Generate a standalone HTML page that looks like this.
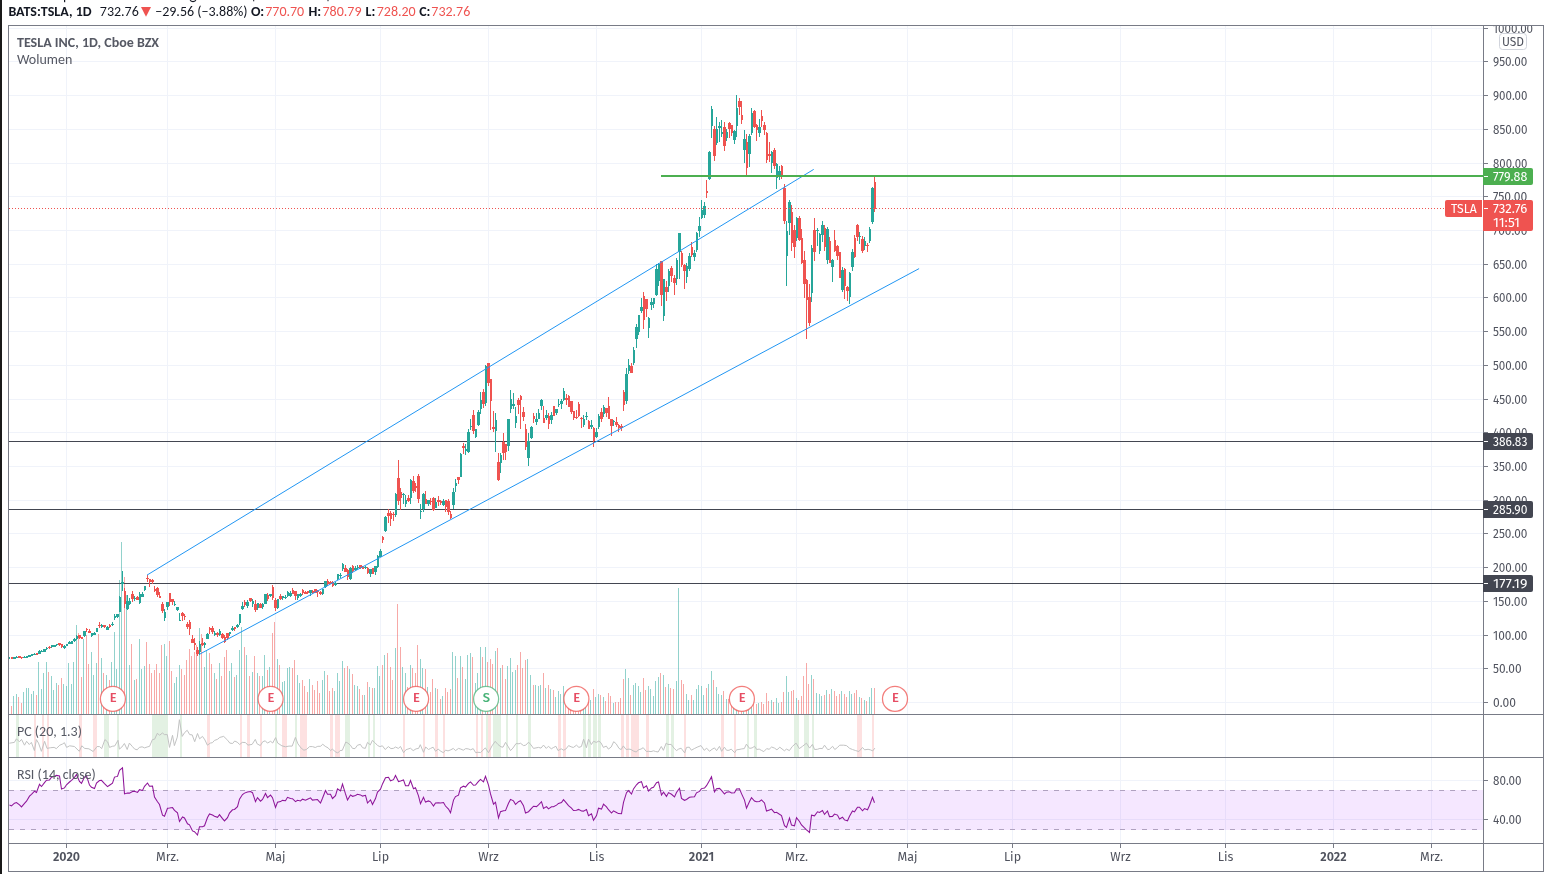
<!DOCTYPE html><html><head><meta charset="utf-8"><title>TSLA chart</title><style>html,body{margin:0;padding:0;background:#fff;}svg{display:block}text{-webkit-font-smoothing:antialiased}</style></head><body>
<svg width="1550" height="874" viewBox="0 0 1550 874" shape-rendering="crispEdges" style="will-change:transform">
<rect x="0" y="0" width="1550" height="874" fill="#fff"/>
<rect x="0" y="0" width="2" height="874" fill="#1a1a1a"/>
<path d="M66.5 26V714M66.5 715V757M66.5 758V843M167.5 26V714M167.5 715V757M167.5 758V843M275.5 26V714M275.5 715V757M275.5 758V843M380.5 26V714M380.5 715V757M380.5 758V843M488.5 26V714M488.5 715V757M488.5 758V843M596.5 26V714M596.5 715V757M596.5 758V843M701.5 26V714M701.5 715V757M701.5 758V843M796.5 26V714M796.5 715V757M796.5 758V843M907.5 26V714M907.5 715V757M907.5 758V843M1012.5 26V714M1012.5 715V757M1012.5 758V843M1120.5 26V714M1120.5 715V757M1120.5 758V843M1225.5 26V714M1225.5 715V757M1225.5 758V843M1333.5 26V714M1333.5 715V757M1333.5 758V843M1431.5 26V714M1431.5 715V757M1431.5 758V843M9 702.5H1483M9 668.5H1483M9 635.5H1483M9 601.5H1483M9 567.5H1483M9 533.5H1483M9 500.5H1483M9 466.5H1483M9 432.5H1483M9 399.5H1483M9 365.5H1483M9 331.5H1483M9 297.5H1483M9 264.5H1483M9 230.5H1483M9 196.5H1483M9 163.5H1483M9 129.5H1483M9 95.5H1483M9 61.5H1483M9 28.5H1483M9 780.5H1483M9 819.5H1483" stroke="#f0f3fa" stroke-width="1" fill="none"/>
<rect x="15.8" y="715" width="2.8" height="42" fill="#e3f1e3"/>
<rect x="34.3" y="715" width="2.1" height="42" fill="#fde1e1"/>
<rect x="42.1" y="715" width="1.7" height="42" fill="#fde1e1"/>
<rect x="47.0" y="715" width="1.9" height="42" fill="#fde1e1"/>
<rect x="79.0" y="715" width="2.8" height="42" fill="#fde1e1"/>
<rect x="92.5" y="715" width="4.2" height="42" fill="#fde1e1"/>
<rect x="104.2" y="715" width="4.6" height="42" fill="#e3f1e3"/>
<rect x="117.0" y="715" width="1.7" height="42" fill="#e3f1e3"/>
<rect x="152.1" y="715" width="16.3" height="42" fill="#e3f1e3"/>
<rect x="180.2" y="715" width="1.7" height="42" fill="#e3f1e3"/>
<rect x="207.2" y="715" width="2.6" height="42" fill="#fde1e1"/>
<rect x="240.1" y="715" width="1.8" height="42" fill="#fde1e1"/>
<rect x="247.2" y="715" width="2.8" height="42" fill="#fde1e1"/>
<rect x="259.9" y="715" width="1.9" height="42" fill="#fde1e1"/>
<rect x="275.1" y="715" width="1.6" height="42" fill="#e3f1e3"/>
<rect x="281.9" y="715" width="5.0" height="42" fill="#fde1e1"/>
<rect x="295.1" y="715" width="1.7" height="42" fill="#e3f1e3"/>
<rect x="300.1" y="715" width="6.7" height="42" fill="#fde1e1"/>
<rect x="330.2" y="715" width="2.6" height="42" fill="#fde1e1"/>
<rect x="335.2" y="715" width="4.7" height="42" fill="#fde1e1"/>
<rect x="345.1" y="715" width="4.7" height="42" fill="#e3f1e3"/>
<rect x="368.2" y="715" width="1.5" height="42" fill="#e3f1e3"/>
<rect x="373.1" y="715" width="1.8" height="42" fill="#e3f1e3"/>
<rect x="403.3" y="715" width="1.8" height="42" fill="#fde1e1"/>
<rect x="423.2" y="715" width="1.8" height="42" fill="#fde1e1"/>
<rect x="435.2" y="715" width="2.6" height="42" fill="#fde1e1"/>
<rect x="443.0" y="715" width="1.9" height="42" fill="#fde1e1"/>
<rect x="476.1" y="715" width="2.0" height="42" fill="#fde1e1"/>
<rect x="480.9" y="715" width="2.0" height="42" fill="#fde1e1"/>
<rect x="486.0" y="715" width="1.7" height="42" fill="#e3f1e3"/>
<rect x="488.0" y="715" width="2.9" height="42" fill="#fde1e1"/>
<rect x="493.1" y="715" width="7.7" height="42" fill="#e3f1e3"/>
<rect x="505.9" y="715" width="2.0" height="42" fill="#e3f1e3"/>
<rect x="515.8" y="715" width="2.0" height="42" fill="#e3f1e3"/>
<rect x="528.2" y="715" width="2.8" height="42" fill="#e3f1e3"/>
<rect x="558.0" y="715" width="2.8" height="42" fill="#fde1e1"/>
<rect x="563.0" y="715" width="2.8" height="42" fill="#fde1e1"/>
<rect x="582.8" y="715" width="3.2" height="42" fill="#e3f1e3"/>
<rect x="588.2" y="715" width="2.9" height="42" fill="#e3f1e3"/>
<rect x="592.8" y="715" width="4.0" height="42" fill="#e3f1e3"/>
<rect x="598.2" y="715" width="2.8" height="42" fill="#e3f1e3"/>
<rect x="620.9" y="715" width="3.1" height="42" fill="#fde1e1"/>
<rect x="626.1" y="715" width="2.9" height="42" fill="#fde1e1"/>
<rect x="631.1" y="715" width="7.8" height="42" fill="#fde1e1"/>
<rect x="646.0" y="715" width="2.8" height="42" fill="#fde1e1"/>
<rect x="665.9" y="715" width="3.1" height="42" fill="#e3f1e3"/>
<rect x="671.1" y="715" width="2.9" height="42" fill="#e3f1e3"/>
<rect x="684.0" y="715" width="2.0" height="42" fill="#fde1e1"/>
<rect x="720.9" y="715" width="3.2" height="42" fill="#fde1e1"/>
<rect x="734.0" y="715" width="2.1" height="42" fill="#fde1e1"/>
<rect x="747.1" y="715" width="1.8" height="42" fill="#e3f1e3"/>
<rect x="753.9" y="715" width="3.2" height="42" fill="#e3f1e3"/>
<rect x="794.0" y="715" width="4.9" height="42" fill="#e3f1e3"/>
<rect x="804.0" y="715" width="5.2" height="42" fill="#e3f1e3"/>
<rect x="812.1" y="715" width="1.8" height="42" fill="#e3f1e3"/>
<rect x="857.1" y="715" width="4.7" height="42" fill="#fde1e1"/>
<rect x="872.1" y="715" width="2.0" height="42" fill="#fde1e1"/>
<path d="M9 790.5H1483M9 829.5H1483" stroke="#b3b3b9" stroke-width="1" stroke-dasharray="5 6" fill="none"/>
<rect x="9" y="790" width="1474" height="40" fill="#9915ff" fill-opacity="0.1"/>
<path d="M13.5 696.3V714M16.5 694.2V714M23.5 692.0V714M26.5 688.0V714M28.5 688.0V714M31.5 693.9V714M33.5 691.0V714M38.5 662.3V714M41.5 689.0V714M43.5 673.0V714M46.5 662.3V714M51.5 675.9V714M53.5 690.0V714M56.5 683.0V714M63.5 684.1V714M66.5 686.1V714M68.5 663.3V714M71.5 684.1V714M73.5 662.3V714M76.5 625.0V714M83.5 638.5V714M91.5 652.2V714M93.5 675.0V714M96.5 663.3V714M101.5 658.0V714M106.5 675.0V714M111.5 662.3V714M114.5 632.0V714M116.5 669.1V714M119.5 580.0V714M121.5 542.0V714M126.5 595.0V714M129.5 665.0V714M134.5 680.2V714M139.5 638.9V714M141.5 669.1V714M144.5 666.3V714M164.5 644.3V714M166.5 656.1V714M174.5 682.8V714M176.5 677.0V714M179.5 665.0V714M199.5 628.0V714M204.5 667.2V714M206.5 650.9V714M214.5 673.0V714M219.5 663.3V714M229.5 671.1V714M231.5 663.3V714M236.5 675.0V714M239.5 650.2V714M241.5 627.4V714M246.5 655.0V714M252.5 672.0V714M257.5 673.0V714M262.5 675.9V714M264.5 655.0V714M269.5 667.2V714M277.5 659.1V714M282.5 682.2V714M284.5 681.1V714M287.5 668.1V714M289.5 667.2V714M297.5 675.1V714M299.5 683.0V714M309.5 678.9V714M322.5 680.0V714M324.5 671.2V714M334.5 690.7V714M337.5 673.1V714M339.5 680.9V714M342.5 661.0V714M349.5 668.9V714M354.5 685.0V714M357.5 685.8V714M364.5 695.0V714M369.5 686.9V714M374.5 688.1V714M377.5 666.2V714M379.5 675.8V714M384.5 655.1V714M395.5 647.8V714M402.5 667.1V714M405.5 672.8V714M410.5 664.9V714M420.5 659.1V714M422.5 668.0V714M427.5 686.9V714M435.5 687.9V714M442.5 696.2V714M452.5 652.1V714M455.5 655.9V714M460.5 655.9V714M465.5 679.4V714M467.5 655.1V714M470.5 653.1V714M475.5 683.0V714M477.5 673.1V714M480.5 647.2V714M485.5 647.2V714M495.5 651.0V714M500.5 668.2V714M507.5 666.2V714M510.5 658.2V714M512.5 672.0V714M515.5 670.2V714M527.5 659.0V714M530.5 675.1V714M535.5 685.0V714M538.5 686.1V714M540.5 685.0V714M545.5 688.1V714M550.5 688.9V714M555.5 697.3V714M558.5 690.9V714M560.5 694.2V714M563.5 686.1V714M583.5 708.8V714M585.5 707.3V714M590.5 700.1V714M595.5 697.1V714M598.5 693.9V714M603.5 697.1V714M613.5 702.7V714M625.5 668.9V714M628.5 678.1V714M633.5 684.8V714M635.5 683.0V714M638.5 686.0V714M640.5 691.8V714M648.5 686.0V714M650.5 689.0V714M653.5 696.0V714M655.5 681.1V714M658.5 676.8V714M663.5 675.1V714M668.5 683.9V714M676.5 680.9V714M678.5 587.8V714M686.5 693.9V714M688.5 700.1V714M693.5 700.1V714M696.5 689.0V714M698.5 685.1V714M701.5 686.0V714M703.5 694.8V714M708.5 683.9V714M711.5 671.0V714M716.5 686.9V714M718.5 693.9V714M721.5 694.8V714M726.5 698.9V714M733.5 699.0V714M736.5 690.0V714M743.5 697.0V714M748.5 699.0V714M751.5 707.3V714M758.5 702.7V714M771.5 700.1V714M776.5 698.1V714M778.5 702.7V714M786.5 675.8V714M788.5 691.9V714M796.5 698.1V714M811.5 675.1V714M816.5 693.2V714M819.5 694.2V714M821.5 696.1V714M826.5 690.1V714M831.5 688.9V714M841.5 690.9V714M849.5 690.9V714M851.5 693.9V714M859.5 697.0V714M864.5 700.1V714M869.5 697.0V714M871.5 688.1V714" stroke="#26a69a" stroke-opacity="0.5" stroke-width="1" fill="none" shape-rendering="crispEdges"/>
<path d="M11.5 706.3V714M18.5 697.2V714M21.5 703.0V714M36.5 695.0V714M48.5 672.0V714M58.5 685.0V714M61.5 678.0V714M78.5 633.3V714M81.5 677.0V714M86.5 635.2V714M88.5 663.9V714M98.5 633.9V714M103.5 673.0V714M109.5 680.2V714M124.5 577.0V714M131.5 644.1V714M136.5 678.9V714M146.5 642.0V714M149.5 663.9V714M151.5 673.0V714M154.5 670.2V714M156.5 664.2V714M159.5 673.0V714M161.5 645.0V714M169.5 641.1V714M171.5 671.1V714M181.5 668.9V714M184.5 675.0V714M186.5 660.0V714M189.5 648.9V714M191.5 656.1V714M194.5 652.2V714M196.5 645.0V714M201.5 633.9V714M209.5 652.8V714M211.5 663.9V714M216.5 678.9V714M221.5 675.9V714M224.5 657.0V714M226.5 650.2V714M234.5 677.0V714M244.5 647.0V714M249.5 675.9V714M254.5 656.1V714M259.5 675.9V714M267.5 670.0V714M272.5 633.3V714M274.5 622.2V714M279.5 665.0V714M292.5 668.1V714M294.5 660.3V714M302.5 680.0V714M304.5 685.8V714M307.5 691.9V714M312.5 685.0V714M314.5 689.6V714M317.5 680.9V714M319.5 693.0V714M327.5 675.1V714M329.5 690.7V714M332.5 688.1V714M344.5 668.2V714M347.5 666.2V714M352.5 674.0V714M359.5 688.9V714M362.5 694.7V714M367.5 682.0V714M372.5 688.1V714M382.5 665.1V714M387.5 653.1V714M390.5 667.1V714M392.5 680.0V714M397.5 603.8V714M400.5 647.0V714M407.5 687.2V714M412.5 668.0V714M415.5 673.0V714M417.5 645.0V714M425.5 669.0V714M430.5 691.8V714M432.5 679.1V714M437.5 689.0V714M440.5 698.8V714M445.5 688.1V714M447.5 691.9V714M450.5 689.2V714M457.5 678.1V714M462.5 667.1V714M472.5 657.1V714M482.5 657.1V714M487.5 662.0V714M490.5 659.0V714M492.5 664.0V714M497.5 647.9V714M502.5 665.1V714M505.5 679.1V714M517.5 665.1V714M520.5 652.1V714M522.5 668.2V714M525.5 660.0V714M533.5 685.0V714M543.5 673.1V714M548.5 685.0V714M553.5 690.1V714M565.5 692.0V714M568.5 696.0V714M570.5 694.0V714M573.5 698.0V714M575.5 690.0V714M578.5 697.0V714M580.5 699.0V714M588.5 702.0V714M593.5 689.0V714M600.5 694.8V714M605.5 701.0V714M608.5 693.0V714M610.5 696.0V714M615.5 701.9V714M618.5 701.9V714M620.5 698.0V714M623.5 678.9V714M630.5 694.8V714M643.5 677.7V714M645.5 690.0V714M660.5 673.1V714M665.5 686.9V714M670.5 687.8V714M673.5 689.0V714M681.5 679.8V714M683.5 683.9V714M691.5 694.8V714M706.5 687.8V714M713.5 679.8V714M723.5 690.9V714M728.5 699.2V714M731.5 702.0V714M738.5 699.0V714M741.5 692.0V714M746.5 693.0V714M753.5 704.2V714M756.5 703.9V714M761.5 701.9V714M763.5 703.9V714M766.5 693.2V714M768.5 701.1V714M773.5 701.9V714M781.5 701.9V714M783.5 691.9V714M791.5 691.2V714M793.5 690.1V714M798.5 699.9V714M801.5 696.1V714M803.5 675.8V714M806.5 662.8V714M808.5 684.0V714M813.5 678.9V714M824.5 695.0V714M829.5 693.9V714M834.5 690.9V714M836.5 696.1V714M839.5 693.9V714M844.5 693.9V714M846.5 697.0V714M854.5 693.0V714M856.5 689.9V714M861.5 698.1V714M866.5 701.1V714M874.5 688.1V714" stroke="#ef5350" stroke-opacity="0.5" stroke-width="1" fill="none" shape-rendering="crispEdges"/>
<rect x="9" y="441" width="1474" height="1" fill="#434651"/>
<rect x="9" y="509" width="1474" height="1" fill="#434651"/>
<rect x="9" y="583" width="1474" height="1" fill="#434651"/>
<path d="M9 657h1v2h-1zM14 657h1v2h-1zM13 657h3v2h-3zM16 656h1v2h-1zM16 657h2v1h-2zM24 656h1v2h-1zM23 657h3v1h-3zM26 656h1v2h-1zM26 656h2v2h-2zM29 655h1v2h-1zM28 655h3v2h-3zM31 654h1v2h-1zM31 654h2v2h-2zM34 653h1v2h-1zM33 654h3v1h-3zM39 650h1v4h-1zM38 651h3v3h-3zM41 650h1v2h-1zM41 651h2v1h-2zM44 649h1v3h-1zM43 649h3v3h-3zM46 647h1v3h-1zM46 648h2v1h-2zM51 645h1v3h-1zM51 645h2v2h-2zM54 645h1v2h-1zM53 645h3v2h-3zM56 644h1v2h-1zM56 644h2v1h-2zM64 645h1v4h-1zM63 646h3v2h-3zM66 644h1v2h-1zM66 644h2v2h-2zM69 641h1v3h-1zM68 642h3v2h-3zM71 641h1v3h-1zM71 641h2v3h-2zM74 638h1v4h-1zM73 639h3v2h-3zM76 635h1v5h-1zM76 636h2v3h-2zM84 631h1v6h-1zM83 631h3v5h-3zM91 633h1v4h-1zM91 633h2v3h-2zM94 632h1v3h-1zM93 633h3v2h-3zM96 628h1v4h-1zM96 628h2v4h-2zM101 624h1v4h-1zM101 625h2v2h-2zM107 626h1v4h-1zM106 627h3v3h-3zM112 622h1v4h-1zM111 624h3v1h-3zM114 614h1v6h-1zM114 616h2v2h-2zM117 614h1v4h-1zM116 614h3v3h-3zM119 596h1v16h-1zM119 597h2v15h-2zM122 571h1v20h-1zM121 582h3v2h-3zM127 595h1v15h-1zM126 601h3v8h-3zM129 598h1v7h-1zM129 601h2v3h-2zM134 596h1v5h-1zM134 598h2v1h-2zM139 592h1v12h-1zM139 594h2v9h-2zM142 592h1v5h-1zM141 594h3v3h-3zM144 586h1v5h-1zM144 586h2v4h-2zM164 609h1v12h-1zM164 612h2v6h-2zM167 602h1v8h-1zM166 602h3v5h-3zM174 601h1v5h-1zM174 604h2v1h-2zM177 607h1v4h-1zM176 607h3v3h-3zM179 613h1v8h-1zM179 620h2v1h-2zM199 641h1v14h-1zM199 644h2v8h-2zM204 642h1v6h-1zM204 643h2v2h-2zM207 633h1v6h-1zM206 634h3v5h-3zM214 631h1v5h-1zM214 633h2v2h-2zM219 629h1v7h-1zM219 631h2v4h-2zM229 632h1v4h-1zM229 632h2v2h-2zM232 626h1v5h-1zM231 628h3v2h-3zM237 624h1v4h-1zM236 625h3v2h-3zM239 614h1v11h-1zM239 614h2v9h-2zM242 602h1v8h-1zM241 606h3v3h-3zM247 600h1v8h-1zM246 602h3v4h-3zM252 599h1v8h-1zM252 601h2v3h-2zM257 603h1v7h-1zM257 603h2v5h-2zM262 603h1v6h-1zM262 604h2v3h-2zM265 594h1v10h-1zM264 594h3v10h-3zM270 594h1v3h-1zM269 594h3v2h-3zM277 599h1v10h-1zM277 599h2v9h-2zM282 596h1v4h-1zM282 596h2v2h-2zM285 595h1v4h-1zM284 597h3v1h-3zM287 591h1v6h-1zM287 592h2v4h-2zM290 591h1v6h-1zM289 593h3v3h-3zM297 594h1v6h-1zM297 594h2v4h-2zM300 593h1v4h-1zM299 594h3v2h-3zM310 590h1v6h-1zM309 590h3v3h-3zM322 589h1v6h-1zM322 589h2v5h-2zM325 581h1v7h-1zM324 581h3v6h-3zM335 582h1v4h-1zM334 583h3v2h-3zM337 574h1v6h-1zM337 574h2v5h-2zM340 573h1v5h-1zM339 575h3v1h-3zM342 563h1v8h-1zM342 564h2v5h-2zM350 567h1v13h-1zM349 568h3v11h-3zM355 566h1v5h-1zM354 568h3v2h-3zM357 565h1v4h-1zM357 567h2v1h-2zM365 566h1v3h-1zM364 567h3v1h-3zM370 569h1v8h-1zM369 569h3v5h-3zM375 566h1v9h-1zM374 566h3v6h-3zM377 555h1v13h-1zM377 556h2v11h-2zM380 549h1v8h-1zM379 551h3v6h-3zM385 516h1v16h-1zM384 517h3v14h-3zM395 493h1v24h-1zM395 494h2v21h-2zM403 493h1v11h-1zM402 494h3v1h-3zM405 495h1v12h-1zM405 500h2v4h-2zM410 479h1v25h-1zM410 480h2v18h-2zM420 504h1v15h-1zM420 511h2v1h-2zM423 493h1v19h-1zM422 494h3v15h-3zM428 500h1v6h-1zM427 500h3v4h-3zM435 498h1v10h-1zM435 502h2v6h-2zM443 499h1v7h-1zM442 501h3v4h-3zM453 488h1v21h-1zM452 492h3v13h-3zM455 479h1v13h-1zM455 483h2v3h-2zM460 453h1v24h-1zM460 454h2v23h-2zM465 444h1v11h-1zM465 449h2v2h-2zM468 429h1v24h-1zM467 432h3v20h-3zM470 419h1v11h-1zM470 426h2v1h-2zM475 429h1v9h-1zM475 429h2v8h-2zM478 410h1v16h-1zM477 412h3v13h-3zM480 392h1v22h-1zM480 400h2v9h-2zM485 365h1v41h-1zM485 366h2v37h-2zM495 413h1v39h-1zM495 420h2v11h-2zM500 453h1v20h-1zM500 455h2v8h-2zM508 419h1v32h-1zM507 419h3v27h-3zM510 390h1v23h-1zM510 399h2v10h-2zM513 393h1v16h-1zM512 404h3v2h-3zM515 407h1v21h-1zM515 416h2v7h-2zM528 433h1v33h-1zM527 441h3v17h-3zM531 426h1v13h-1zM530 427h3v11h-3zM536 413h1v12h-1zM535 419h3v3h-3zM538 409h1v10h-1zM538 413h2v6h-2zM541 399h1v11h-1zM540 400h3v6h-3zM546 410h1v10h-1zM545 415h3v3h-3zM551 412h1v12h-1zM550 415h3v5h-3zM556 409h1v6h-1zM555 409h3v4h-3zM558 399h1v8h-1zM558 404h2v1h-2zM561 399h1v10h-1zM560 401h3v3h-3zM563 388h1v13h-1zM563 391h2v9h-2zM583 415h1v12h-1zM583 419h2v6h-2zM586 412h1v8h-1zM585 416h3v1h-3zM591 420h1v9h-1zM590 425h3v2h-3zM596 428h1v10h-1zM595 432h3v5h-3zM598 414h1v15h-1zM598 416h2v11h-2zM603 405h1v12h-1zM603 407h2v7h-2zM613 420h1v6h-1zM613 421h2v1h-2zM626 368h1v36h-1zM625 374h3v27h-3zM628 359h1v15h-1zM628 365h2v6h-2zM633 347h1v18h-1zM633 350h2v13h-2zM636 324h1v24h-1zM635 327h3v12h-3zM638 315h1v20h-1zM638 315h2v17h-2zM641 298h1v15h-1zM640 307h3v4h-3zM648 317h1v21h-1zM648 318h2v10h-2zM651 298h1v12h-1zM650 302h3v3h-3zM653 298h1v10h-1zM653 298h2v6h-2zM656 264h1v32h-1zM655 269h3v26h-3zM658 263h1v23h-1zM658 264h2v17h-2zM663 279h1v42h-1zM663 279h2v37h-2zM668 269h1v23h-1zM668 271h2v15h-2zM676 258h1v27h-1zM676 260h2v19h-2zM679 233h1v46h-1zM678 233h3v19h-3zM686 263h1v20h-1zM686 266h2v11h-2zM689 253h1v18h-1zM688 256h3v13h-3zM694 250h1v11h-1zM693 253h3v4h-3zM696 232h1v20h-1zM696 233h2v17h-2zM699 217h1v20h-1zM698 226h3v5h-3zM701 200h1v19h-1zM701 210h2v8h-2zM704 202h1v16h-1zM703 206h3v9h-3zM709 151h1v29h-1zM708 152h3v27h-3zM711 106h1v32h-1zM711 109h2v17h-2zM716 117h1v28h-1zM716 129h2v14h-2zM719 122h1v20h-1zM718 126h3v2h-3zM721 120h1v17h-1zM721 132h2v2h-2zM726 129h1v12h-1zM726 132h2v6h-2zM734 130h1v14h-1zM733 131h3v9h-3zM736 95h1v42h-1zM736 108h2v18h-2zM744 130h1v33h-1zM743 139h3v11h-3zM749 134h1v33h-1zM748 136h3v18h-3zM751 108h1v27h-1zM751 113h2v20h-2zM759 119h1v18h-1zM758 127h3v6h-3zM771 151h1v22h-1zM771 152h2v11h-2zM776 163h1v26h-1zM776 164h2v14h-2zM779 166h1v14h-1zM778 171h3v5h-3zM786 221h1v65h-1zM786 231h2v25h-2zM789 200h1v35h-1zM788 202h3v21h-3zM796 217h1v24h-1zM796 218h2v20h-2zM811 245h1v57h-1zM811 248h2v45h-2zM817 228h1v18h-1zM816 230h3v1h-3zM819 233h1v21h-1zM819 234h2v17h-2zM822 221h1v21h-1zM821 225h3v10h-3zM827 227h1v37h-1zM826 229h3v31h-3zM832 259h1v23h-1zM831 260h3v7h-3zM842 267h1v25h-1zM841 270h3v20h-3zM849 272h1v32h-1zM849 273h2v24h-2zM852 249h1v22h-1zM851 252h3v15h-3zM859 232h1v12h-1zM859 236h2v1h-2zM864 237h1v13h-1zM864 241h2v5h-2zM869 227h1v16h-1zM869 229h2v12h-2zM872 187h1v37h-1zM871 188h3v34h-3z" fill="#26a69a"/>
<path d="M11 657h1v2h-1zM11 657h2v2h-2zM19 656h1v2h-1zM18 656h3v2h-3zM21 657h1v2h-1zM21 657h2v1h-2zM36 653h1v2h-1zM36 653h2v2h-2zM49 646h1v3h-1zM48 647h3v1h-3zM59 643h1v3h-1zM58 643h3v2h-3zM61 644h1v4h-1zM61 644h2v3h-2zM79 635h1v4h-1zM78 635h3v3h-3zM81 637h1v2h-1zM81 637h2v2h-2zM86 628h1v4h-1zM86 629h2v1h-2zM89 629h1v4h-1zM88 631h3v2h-3zM99 622h1v6h-1zM98 625h3v1h-3zM104 625h1v3h-1zM103 625h3v2h-3zM109 624h1v4h-1zM109 625h2v2h-2zM124 588h1v20h-1zM124 591h2v13h-2zM132 591h1v11h-1zM131 594h3v5h-3zM137 596h1v4h-1zM136 597h3v3h-3zM147 575h1v7h-1zM146 578h3v1h-3zM149 579h1v8h-1zM149 579h2v3h-2zM152 579h1v5h-1zM151 580h3v2h-3zM154 586h1v6h-1zM154 589h2v2h-2zM157 587h1v10h-1zM156 588h3v7h-3zM159 592h1v6h-1zM159 596h2v2h-2zM162 602h1v11h-1zM161 604h3v7h-3zM169 593h1v13h-1zM169 593h2v9h-2zM172 599h1v6h-1zM171 599h3v3h-3zM182 612h1v9h-1zM181 613h3v3h-3zM184 614h1v6h-1zM184 616h2v1h-2zM187 622h1v7h-1zM186 624h3v3h-3zM189 620h1v15h-1zM189 622h2v7h-2zM192 635h1v8h-1zM191 639h3v4h-3zM194 638h1v12h-1zM194 643h2v2h-2zM197 647h1v9h-1zM196 650h3v4h-3zM202 638h1v8h-1zM201 643h3v2h-3zM209 627h1v7h-1zM209 628h2v2h-2zM212 626h1v8h-1zM211 628h3v4h-3zM217 632h1v5h-1zM216 633h3v2h-3zM222 633h1v6h-1zM221 634h3v4h-3zM224 635h1v8h-1zM224 637h2v5h-2zM227 633h1v7h-1zM226 633h3v5h-3zM234 627h1v4h-1zM234 627h2v2h-2zM244 600h1v7h-1zM244 602h2v3h-2zM250 598h1v4h-1zM249 598h3v3h-3zM255 600h1v12h-1zM254 604h3v6h-3zM260 603h1v5h-1zM259 604h3v4h-3zM267 593h1v8h-1zM267 595h2v4h-2zM272 585h1v15h-1zM272 587h2v11h-2zM275 598h1v13h-1zM274 600h3v8h-3zM280 594h1v6h-1zM279 596h3v3h-3zM292 588h1v6h-1zM292 590h2v4h-2zM295 591h1v9h-1zM294 591h3v5h-3zM302 589h1v6h-1zM302 590h2v3h-2zM305 591h1v3h-1zM304 592h3v2h-3zM307 591h1v3h-1zM307 591h2v2h-2zM312 590h1v4h-1zM312 591h2v2h-2zM315 589h1v4h-1zM314 589h3v4h-3zM317 590h1v7h-1zM317 591h2v1h-2zM320 591h1v4h-1zM319 592h3v2h-3zM327 579h1v7h-1zM327 581h2v3h-2zM330 581h1v3h-1zM329 582h3v2h-3zM332 581h1v6h-1zM332 582h2v4h-2zM345 565h1v7h-1zM344 568h3v4h-3zM347 569h1v11h-1zM347 570h2v7h-2zM352 565h1v8h-1zM352 566h2v5h-2zM360 565h1v4h-1zM359 565h3v3h-3zM362 566h1v3h-1zM362 567h2v2h-2zM367 567h1v7h-1zM367 568h2v5h-2zM372 568h1v6h-1zM372 568h2v6h-2zM382 536h1v7h-1zM382 537h2v3h-2zM388 509h1v14h-1zM387 513h3v3h-3zM390 511h1v15h-1zM390 513h2v6h-2zM393 512h1v9h-1zM392 514h3v1h-3zM398 460h1v45h-1zM397 478h3v23h-3zM400 488h1v22h-1zM400 492h2v6h-2zM408 495h1v7h-1zM407 498h3v3h-3zM413 476h1v17h-1zM412 481h3v10h-3zM415 483h1v9h-1zM415 486h2v2h-2zM418 474h1v29h-1zM417 476h3v23h-3zM425 491h1v13h-1zM425 499h2v5h-2zM430 498h1v7h-1zM430 501h2v1h-2zM433 497h1v14h-1zM432 498h3v12h-3zM438 496h1v10h-1zM437 500h3v2h-3zM440 500h1v5h-1zM440 501h2v2h-2zM445 500h1v12h-1zM445 500h2v7h-2zM448 499h1v16h-1zM447 501h3v11h-3zM450 511h1v8h-1zM450 514h2v4h-2zM458 477h1v7h-1zM457 477h3v3h-3zM463 443h1v11h-1zM462 446h3v2h-3zM473 410h1v24h-1zM472 415h3v16h-3zM483 389h1v19h-1zM482 392h3v12h-3zM488 363h1v23h-1zM487 363h3v20h-3zM490 379h1v51h-1zM490 379h2v22h-2zM493 411h1v21h-1zM492 427h3v2h-3zM498 453h1v28h-1zM497 462h3v18h-3zM503 433h1v27h-1zM502 442h3v11h-3zM505 444h1v16h-1zM505 444h2v8h-2zM518 398h1v16h-1zM517 400h3v5h-3zM520 395h1v34h-1zM520 396h2v4h-2zM523 407h1v14h-1zM522 412h3v5h-3zM525 424h1v26h-1zM525 429h2v18h-2zM533 413h1v10h-1zM533 416h2v3h-2zM543 406h1v17h-1zM543 418h2v5h-2zM548 413h1v16h-1zM548 416h2v8h-2zM553 406h1v10h-1zM553 406h2v10h-2zM566 394h1v11h-1zM565 398h3v2h-3zM568 395h1v12h-1zM568 396h2v11h-2zM571 401h1v13h-1zM570 401h3v11h-3zM573 411h1v9h-1zM573 411h2v7h-2zM576 410h1v9h-1zM575 417h3v1h-3zM578 402h1v15h-1zM578 404h2v12h-2zM581 417h1v11h-1zM580 418h3v1h-3zM588 420h1v9h-1zM588 421h2v8h-2zM593 427h1v20h-1zM593 428h2v13h-2zM601 408h1v14h-1zM600 412h3v7h-3zM606 408h1v9h-1zM605 408h3v5h-3zM608 397h1v22h-1zM608 406h2v13h-2zM611 419h1v17h-1zM610 419h3v7h-3zM616 417h1v10h-1zM615 422h3v3h-3zM618 424h1v8h-1zM618 425h2v3h-2zM621 424h1v7h-1zM620 426h3v2h-3zM623 390h1v21h-1zM623 392h2v13h-2zM631 363h1v10h-1zM630 366h3v7h-3zM643 292h1v37h-1zM643 296h2v24h-2zM646 299h1v18h-1zM645 299h3v10h-3zM661 261h1v45h-1zM660 261h3v34h-3zM666 281h1v20h-1zM665 287h3v5h-3zM671 266h1v16h-1zM670 268h3v8h-3zM674 275h1v20h-1zM673 278h3v5h-3zM681 251h1v16h-1zM681 253h2v12h-2zM684 264h1v25h-1zM683 265h3v6h-3zM691 242h1v15h-1zM691 247h2v8h-2zM706 180h1v18h-1zM706 191h2v2h-2zM714 126h1v35h-1zM713 129h3v27h-3zM724 122h1v29h-1zM723 127h3v19h-3zM729 122h1v16h-1zM728 123h3v6h-3zM731 125h1v11h-1zM731 125h2v8h-2zM739 98h1v17h-1zM738 101h3v6h-3zM741 101h1v23h-1zM741 115h2v5h-2zM746 134h1v43h-1zM746 142h2v26h-2zM754 110h1v18h-1zM753 111h3v16h-3zM756 124h1v17h-1zM756 125h2v5h-2zM761 110h1v17h-1zM761 116h2v5h-2zM764 122h1v13h-1zM763 125h3v5h-3zM766 132h1v31h-1zM766 133h2v27h-2zM769 142h1v20h-1zM768 154h3v2h-3zM774 148h1v21h-1zM773 150h3v16h-3zM781 165h1v14h-1zM781 166h2v10h-2zM784 184h1v40h-1zM783 188h3v33h-3zM791 205h1v46h-1zM791 212h2v31h-2zM794 225h1v33h-1zM793 230h3v17h-3zM799 216h1v25h-1zM798 218h3v22h-3zM801 229h1v35h-1zM801 238h2v25h-2zM804 251h1v47h-1zM803 260h3v24h-3zM806 279h1v60h-1zM806 280h2v20h-2zM809 284h1v42h-1zM808 297h3v26h-3zM814 218h1v43h-1zM813 230h3v22h-3zM824 225h1v26h-1zM824 228h2v19h-2zM829 237h1v26h-1zM829 241h2v22h-2zM834 230h1v22h-1zM834 240h2v11h-2zM837 245h1v15h-1zM836 246h3v10h-3zM839 252h1v26h-1zM839 252h2v26h-2zM844 268h1v31h-1zM844 269h2v17h-2zM847 286h1v15h-1zM846 287h3v4h-3zM854 235h1v23h-1zM854 238h2v19h-2zM857 224h1v17h-1zM856 225h3v12h-3zM862 236h1v17h-1zM861 239h3v12h-3zM867 243h1v9h-1zM866 245h3v1h-3zM874 175h1v37h-1zM874 182h2v27h-2z" fill="#ef5350"/>
<g shape-rendering="auto">
<line x1="147.0" y1="575.1" x2="813.7" y2="169.4" stroke="#2196f3" stroke-width="1"/>
<line x1="199.6" y1="654.2" x2="919.1" y2="268.6" stroke="#2196f3" stroke-width="1"/>
</g>
<rect x="661" y="175" width="822" height="2" fill="#4caf50"/>
<path d="M9 208.5H1445" stroke="#ef5350" stroke-width="1" stroke-dasharray="1 2" fill="none"/>
<g shape-rendering="auto">
<circle cx="112.9" cy="698.9" r="12.5" fill="#fff" stroke="#ef5350" stroke-opacity="0.75" stroke-width="1.25"/>
<text x="113.2" y="702.2" text-anchor="middle" font-family='"Trebuchet MS", "Fira Sans", "Liberation Sans", sans-serif' font-size="13" font-weight="500" fill="#e64d63" textLength="6.89" lengthAdjust="spacingAndGlyphs">E</text>
<circle cx="270.6" cy="698.9" r="12.5" fill="#fff" stroke="#ef5350" stroke-opacity="0.75" stroke-width="1.25"/>
<text x="271.0" y="702.2" text-anchor="middle" font-family='"Trebuchet MS", "Fira Sans", "Liberation Sans", sans-serif' font-size="13" font-weight="500" fill="#e64d63" textLength="6.89" lengthAdjust="spacingAndGlyphs">E</text>
<circle cx="416.1" cy="698.9" r="12.5" fill="#fff" stroke="#ef5350" stroke-opacity="0.75" stroke-width="1.25"/>
<text x="416.5" y="702.2" text-anchor="middle" font-family='"Trebuchet MS", "Fira Sans", "Liberation Sans", sans-serif' font-size="13" font-weight="500" fill="#e64d63" textLength="6.89" lengthAdjust="spacingAndGlyphs">E</text>
<circle cx="486.1" cy="698.9" r="12.5" fill="#fff" stroke="#4db37a" stroke-opacity="0.75" stroke-width="1.25"/>
<text x="486.5" y="702.2" text-anchor="middle" font-family='"Trebuchet MS", "Fira Sans", "Liberation Sans", sans-serif' font-size="13" font-weight="500" fill="#47b277" textLength="7.28" lengthAdjust="spacingAndGlyphs">S</text>
<circle cx="576.4" cy="698.9" r="12.5" fill="#fff" stroke="#ef5350" stroke-opacity="0.75" stroke-width="1.25"/>
<text x="576.8" y="702.2" text-anchor="middle" font-family='"Trebuchet MS", "Fira Sans", "Liberation Sans", sans-serif' font-size="13" font-weight="500" fill="#e64d63" textLength="6.89" lengthAdjust="spacingAndGlyphs">E</text>
<circle cx="741.9" cy="698.9" r="12.5" fill="#fff" stroke="#ef5350" stroke-opacity="0.75" stroke-width="1.25"/>
<text x="742.2" y="702.2" text-anchor="middle" font-family='"Trebuchet MS", "Fira Sans", "Liberation Sans", sans-serif' font-size="13" font-weight="500" fill="#e64d63" textLength="6.89" lengthAdjust="spacingAndGlyphs">E</text>
<circle cx="895.0" cy="698.9" r="12.5" fill="#fff" stroke="#ef5350" stroke-opacity="0.75" stroke-width="1.25"/>
<text x="895.4" y="702.2" text-anchor="middle" font-family='"Trebuchet MS", "Fira Sans", "Liberation Sans", sans-serif' font-size="13" font-weight="500" fill="#e64d63" textLength="6.89" lengthAdjust="spacingAndGlyphs">E</text>
</g>
<polyline shape-rendering="auto" points="9.4,743.2 14.4,742.4 16.4,738.8 19.4,741.8 21.5,739.4 24.5,745.2 26.6,741.3 29.3,744.5 31.4,742.4 34.4,750.6 36.4,739.6 38.5,743.1 41.4,751.3 44.6,741.3 47.0,748.4 50.6,747.7 54.1,747.4 56.3,748.6 59.8,745.2 62.6,744.0 64.4,742.7 66.6,747.4 69.7,745.8 74.4,746.5 79.3,751.3 81.8,745.8 84.7,748.4 88.9,748.8 93.2,751.5 97.1,746.5 99.6,746.6 101.7,748.6 104.9,739.6 107.7,742.0 109.5,747.4 112.3,746.3 114.8,745.9 118.0,740.3 119.4,749.1 121.9,747.0 124.4,743.5 127.2,749.5 129.4,743.1 132.2,746.3 134.7,749.1 137.2,749.8 139.3,747.4 142.1,746.8 144.6,747.9 147.1,747.0 149.6,746.3 152.4,739.6 154.6,739.2 157.4,733.2 159.5,735.3 162.4,733.0 164.5,734.6 167.3,734.6 169.5,747.4 172.5,735.3 174.4,745.6 177.3,737.1 179.4,719.7 182.2,736.4 184.7,732.5 187.2,730.3 189.7,734.6 192.2,734.9 194.7,741.7 197.5,733.5 199.6,738.8 202.5,736.4 204.9,739.9 207.4,745.2 210.3,743.1 212.4,742.7 214.5,740.4 217.4,739.4 219.8,737.4 223.7,736.4 227.7,740.3 229.8,743.1 232.6,743.5 234.7,741.0 237.2,742.2 239.7,744.5 242.2,742.4 245.4,742.5 247.9,745.1 252.1,744.4 255.3,739.4 257.1,743.8 260.3,745.6 262.8,741.7 265.3,740.8 267.4,743.1 270.6,741.3 272.7,743.0 275.6,737.6 277.7,743.1 281.9,745.8 285.5,746.8 289.0,746.1 292.2,746.1 295.4,737.4 297.9,743.8 301.1,748.1 303.9,750.2 306.4,749.5 309.6,746.6 312.5,746.6 315.3,747.5 317.8,746.3 320.6,746.3 322.7,744.2 325.2,746.3 328.1,747.9 330.6,750.6 332.3,749.1 335.2,751.6 337.7,753.0 340.1,750.6 342.3,750.3 345.8,742.0 347.9,743.1 350.4,745.2 352.5,748.4 355.0,748.6 357.5,745.2 360.4,744.4 362.5,747.7 365.3,748.4 367.5,742.4 370.3,744.9 372.4,740.4 374.9,742.7 377.7,745.6 379.9,746.6 382.4,745.8 385.2,749.5 388.4,746.6 390.9,748.6 393.4,748.4 395.5,747.0 398.3,748.4 400.5,746.5 403.6,752.7 405.8,749.8 407.9,749.1 410.4,748.2 413.2,750.6 416.1,748.8 418.6,748.4 420.3,744.7 423.5,752.3 425.7,747.0 428.5,749.5 430.6,748.4 433.1,747.2 435.6,751.3 438.1,749.1 440.9,751.3 443.4,752.7 445.5,750.1 448.0,750.9 450.8,749.8 453.3,748.4 455.5,750.6 458.6,748.4 460.8,749.1 463.3,750.2 465.7,748.6 468.2,748.9 470.7,749.8 473.2,748.6 475.7,752.7 477.8,752.3 480.6,752.5 485.3,747.9 488.5,752.7 492.0,745.9 495.2,741.3 498.0,744.5 500.9,746.8 503.0,747.2 505.5,742.4 508.0,746.3 510.5,750.6 512.9,748.1 516.1,743.5 519.0,743.8 520.4,743.2 523.6,745.6 525.7,745.2 528.6,742.2 531.0,744.9 533.5,748.4 536.0,747.9 538.5,747.4 541.0,748.1 543.5,745.1 546.3,748.4 548.4,746.3 551.3,748.8 553.7,747.4 555.9,746.3 558.0,750.6 561.2,748.8 563.7,750.2 565.8,749.1 568.6,745.6 571.1,746.8 573.3,747.5 576.5,745.2 578.9,747.4 581.4,746.5 583.6,739.2 586.4,747.7 588.5,739.2 591.4,744.5 593.5,741.3 596.3,742.4 598.8,741.1 600.9,742.7 603.4,747.4 606.3,746.1 608.4,749.1 611.2,747.0 613.7,741.7 616.2,743.8 619.0,748.4 621.2,749.6 623.3,745.9 626.1,749.5 629.0,749.1 631.1,749.5 633.2,750.9 636.1,752.0 638.9,749.6 641.0,749.1 643.2,747.7 646.4,751.5 648.8,751.3 651.0,751.6 653.5,750.8 655.6,751.5 658.1,752.0 661.3,746.5 663.4,750.3 666.2,743.1 668.0,744.5 671.2,744.4 674.0,748.1 676.5,750.6 678.6,749.1 681.1,748.2 684.7,752.9 686.5,747.4 689.3,747.2 691.4,750.2 694.3,748.6 697.1,747.2 701.0,745.6 704.2,750.3 706.7,748.2 709.5,751.3 712.0,749.3 714.5,747.9 716.6,750.6 719.5,746.3 721.6,751.3 724.4,747.2 726.6,750.3 729.0,750.3 731.2,749.1 734.7,752.7 736.5,749.8 739.0,749.5 741.8,748.9 744.3,748.6 746.4,744.2 749.6,748.4 752.1,747.9 754.6,746.3 756.7,749.5 759.2,749.1 761.3,750.3 763.8,751.6 766.7,748.6 769.1,749.3 771.6,747.0 774.5,748.1 776.9,749.8 778.0,748.9 779.8,747.2 784.4,750.8 786.5,749.1 789.4,750.6 792.2,746.6 796.1,743.1 799.3,748.6 802.5,746.3 806.4,743.2 809.6,748.1 812.4,744.4 814.6,749.5 817.4,749.3 819.9,748.4 822.4,748.6 824.5,745.2 827.7,749.6 829.5,749.3 832.6,746.3 834.8,749.5 837.6,747.4 839.7,745.2 843.6,745.2 846.5,745.6 849.7,748.4 852.5,749.5 855.7,750.6 858.9,751.5 862.5,747.5 864.6,749.8 868.1,749.3 870.3,749.8 872.7,750.9 874.9,748.1" fill="none" stroke="#c2c3c3" stroke-width="1"/>
<polyline shape-rendering="auto" points="9.5,805.0 11.5,805.9 14.5,803.2 16.5,802.5 19.5,804.9 21.5,806.9 24.5,803.4 26.5,801.2 29.5,796.2 31.5,794.3 34.5,791.2 36.5,792.5 39.5,784.3 41.5,786.5 44.5,782.6 46.5,780.2 49.5,779.9 51.5,777.3 54.5,776.3 56.5,775.4 59.5,776.0 61.5,789.0 64.5,787.9 66.5,784.8 69.5,782.0 71.5,780.3 74.5,777.4 76.5,774.6 79.5,781.4 81.5,783.3 84.5,777.0 86.5,775.8 89.5,785.1 91.5,787.3 94.5,788.6 96.5,783.1 99.5,780.6 101.5,780.3 104.5,783.6 107.5,786.6 109.5,785.2 112.5,783.2 114.5,777.1 117.5,776.4 119.5,770.3 122.5,767.9 124.5,793.9 127.5,793.0 129.5,793.1 132.5,791.5 134.5,791.3 137.5,792.4 139.5,789.7 142.5,790.4 144.5,786.3 147.5,783.0 149.5,786.2 152.5,786.1 154.5,797.0 157.5,801.7 159.5,804.5 162.5,815.2 164.5,816.2 167.5,808.2 169.5,808.0 172.5,807.6 174.5,810.4 177.5,812.8 179.5,821.5 182.5,817.0 184.5,818.0 187.5,823.8 189.5,824.8 192.5,830.9 194.5,831.7 197.5,835.0 199.5,826.7 202.5,826.7 204.5,825.8 207.5,817.5 209.5,814.0 212.5,815.0 214.5,816.2 217.5,817.3 219.5,814.6 222.5,818.6 224.5,820.9 227.5,817.6 229.5,813.1 232.5,809.8 234.5,809.4 237.5,806.6 239.5,799.1 242.5,794.5 244.5,793.1 247.5,792.1 250.5,791.5 252.5,792.7 255.5,801.6 257.5,797.6 260.5,801.2 262.5,799.4 265.5,793.5 267.5,797.6 270.5,795.1 272.5,797.7 275.5,807.4 277.5,802.2 280.5,801.6 282.5,800.4 285.5,800.7 287.5,797.3 290.5,798.5 292.5,798.7 295.5,801.6 297.5,800.2 300.5,800.9 302.5,799.2 305.5,800.3 307.5,799.3 310.5,797.8 312.5,800.1 315.5,799.8 317.5,799.6 320.5,803.0 322.5,798.3 325.5,790.5 327.5,794.3 330.5,794.2 332.5,798.5 335.5,795.6 337.5,788.8 340.5,790.9 342.5,784.1 345.5,793.9 347.5,799.9 350.5,794.9 352.5,796.3 355.5,795.4 357.5,794.3 360.5,794.9 362.5,796.1 365.5,795.3 367.5,803.0 370.5,799.9 372.5,804.5 375.5,798.6 377.5,792.1 380.5,789.2 382.5,783.9 385.5,777.8 388.5,777.3 390.5,780.8 393.5,779.7 395.5,775.5 398.5,781.5 400.5,780.9 403.5,779.9 405.5,785.7 408.5,785.7 410.5,780.5 413.5,788.8 415.5,787.8 418.5,795.8 420.5,803.8 423.5,797.4 425.5,802.1 428.5,800.9 430.5,801.8 433.5,806.1 435.5,802.9 438.5,802.8 440.5,802.9 443.5,802.6 445.5,806.0 448.5,809.1 450.5,812.8 453.5,800.1 455.5,796.6 458.5,795.1 460.5,787.8 463.5,786.2 465.5,787.0 468.5,783.3 470.5,782.0 473.5,785.3 475.5,785.1 478.5,781.4 480.5,779.4 483.5,781.8 485.5,776.4 488.5,785.1 490.5,793.9 493.5,804.2 495.5,802.2 498.5,817.8 500.5,811.7 503.5,810.8 505.5,810.6 508.5,803.3 510.5,799.4 513.5,800.9 515.5,804.4 518.5,801.7 520.5,800.7 523.5,805.7 525.5,813.0 528.5,811.7 531.5,808.4 533.5,806.2 536.5,806.6 538.5,804.9 541.5,801.7 543.5,808.5 546.5,806.6 548.5,808.9 551.5,806.8 553.5,806.7 556.5,805.1 558.5,803.4 561.5,802.5 563.5,799.6 566.5,803.2 568.5,805.7 571.5,808.1 573.5,810.5 576.5,810.3 578.5,809.4 581.5,811.0 583.5,811.1 586.5,809.5 588.5,815.6 591.5,813.8 593.5,820.3 596.5,815.6 598.5,808.2 601.5,809.1 603.5,804.2 606.5,806.9 608.5,809.7 611.5,813.0 613.5,810.8 616.5,812.5 618.5,813.6 621.5,813.7 623.5,802.4 626.5,792.7 628.5,790.6 631.5,794.1 633.5,788.9 636.5,784.8 638.5,782.8 641.5,781.7 643.5,787.9 646.5,785.9 648.5,791.0 651.5,787.9 653.5,787.2 656.5,782.7 658.5,782.0 661.5,795.0 663.5,792.2 666.5,796.4 668.5,792.6 671.5,794.3 674.5,796.9 676.5,792.5 679.5,788.3 681.5,798.4 684.5,800.3 686.5,799.5 689.5,797.3 691.5,797.1 694.5,796.8 696.5,792.8 699.5,791.4 701.5,788.6 704.5,788.0 706.5,785.7 709.5,780.6 711.5,776.9 714.5,791.8 716.5,788.8 719.5,788.4 721.5,790.3 724.5,794.0 726.5,792.2 729.5,791.7 731.5,792.9 734.5,792.7 736.5,789.0 739.5,788.8 741.5,793.6 744.5,800.1 746.5,808.1 749.5,801.6 751.5,797.7 754.5,801.0 756.5,801.8 759.5,801.5 761.5,799.9 764.5,802.9 766.5,811.1 769.5,809.9 771.5,809.1 774.5,812.7 776.5,812.3 779.5,814.3 781.5,815.5 784.5,825.6 786.5,827.4 789.5,818.0 791.5,825.1 794.5,825.8 796.5,817.7 799.5,821.5 801.5,824.9 804.5,827.8 806.5,829.8 809.5,832.5 811.5,815.2 814.5,815.8 817.5,811.8 819.5,812.5 822.5,810.6 824.5,814.4 827.5,811.0 829.5,816.6 832.5,816.4 834.5,814.1 837.5,815.1 839.5,819.0 842.5,817.3 844.5,819.9 847.5,820.8 849.5,816.3 852.5,811.0 854.5,811.9 857.5,807.3 859.5,807.2 862.5,810.8 864.5,808.6 867.5,809.8 869.5,805.5 872.5,797.2 874.5,802.7" fill="none" stroke="#8e1599" stroke-width="1.05"/>
<path d="M8.5 25.5H1543.5V871.5H8.5ZM1483.5 25.5V871.5M8.5 714.5H1543.5M8.5 757.5H1543.5M8.5 843.5H1543.5" stroke="#787b86" stroke-width="1" fill="none"/>
<path d="M1484 702.5h4M1484 668.5h4M1484 635.5h4M1484 601.5h4M1484 567.5h4M1484 533.5h4M1484 500.5h4M1484 466.5h4M1484 432.5h4M1484 399.5h4M1484 365.5h4M1484 331.5h4M1484 297.5h4M1484 264.5h4M1484 230.5h4M1484 196.5h4M1484 163.5h4M1484 129.5h4M1484 95.5h4M1484 61.5h4M1484 28.5h4M1484 780.5h4M1484 819.5h4M66.5 844v4M167.5 844v4M275.5 844v4M380.5 844v4M488.5 844v4M596.5 844v4M701.5 844v4M796.5 844v4M907.5 844v4M1012.5 844v4M1120.5 844v4M1225.5 844v4M1333.5 844v4M1431.5 844v4" stroke="#787b86" stroke-width="1" fill="none"/>
<svg x="1484" y="26" width="59" height="688" overflow="hidden"><g font-family='"Trebuchet MS", "Fira Sans", "Liberation Sans", sans-serif' font-size="12.6" fill="#50535e">
<text x="9" y="680.8" textLength="22.9" lengthAdjust="spacingAndGlyphs">0.00</text>
<text x="9" y="646.8" textLength="28.6" lengthAdjust="spacingAndGlyphs">50.00</text>
<text x="9" y="613.8" textLength="34.4" lengthAdjust="spacingAndGlyphs">100.00</text>
<text x="9" y="579.8" textLength="34.4" lengthAdjust="spacingAndGlyphs">150.00</text>
<text x="9" y="545.8" textLength="34.4" lengthAdjust="spacingAndGlyphs">200.00</text>
<text x="9" y="511.8" textLength="34.4" lengthAdjust="spacingAndGlyphs">250.00</text>
<text x="9" y="478.8" textLength="34.4" lengthAdjust="spacingAndGlyphs">300.00</text>
<text x="9" y="444.8" textLength="34.4" lengthAdjust="spacingAndGlyphs">350.00</text>
<text x="9" y="410.8" textLength="34.4" lengthAdjust="spacingAndGlyphs">400.00</text>
<text x="9" y="377.8" textLength="34.4" lengthAdjust="spacingAndGlyphs">450.00</text>
<text x="9" y="343.8" textLength="34.4" lengthAdjust="spacingAndGlyphs">500.00</text>
<text x="9" y="309.8" textLength="34.4" lengthAdjust="spacingAndGlyphs">550.00</text>
<text x="9" y="275.8" textLength="34.4" lengthAdjust="spacingAndGlyphs">600.00</text>
<text x="9" y="242.8" textLength="34.4" lengthAdjust="spacingAndGlyphs">650.00</text>
<text x="9" y="208.8" textLength="34.4" lengthAdjust="spacingAndGlyphs">700.00</text>
<text x="9" y="174.8" textLength="34.4" lengthAdjust="spacingAndGlyphs">750.00</text>
<text x="9" y="141.8" textLength="34.4" lengthAdjust="spacingAndGlyphs">800.00</text>
<text x="9" y="107.8" textLength="34.4" lengthAdjust="spacingAndGlyphs">850.00</text>
<text x="9" y="73.8" textLength="34.4" lengthAdjust="spacingAndGlyphs">900.00</text>
<text x="9" y="39.8" textLength="34.4" lengthAdjust="spacingAndGlyphs">950.00</text>
<text x="9" y="6.8" textLength="40.1" lengthAdjust="spacingAndGlyphs">1000.00</text>
</g></svg>
<g font-family='"Trebuchet MS", "Fira Sans", "Liberation Sans", sans-serif' font-size="12.6" fill="#50535e">
<text x="1493" y="784.8" textLength="28.6" lengthAdjust="spacingAndGlyphs">80.00</text>
<text x="1493" y="823.8" textLength="28.6" lengthAdjust="spacingAndGlyphs">40.00</text>
</g>
<rect x="1499.5" y="33.5" width="27" height="16" rx="3" fill="#fff" stroke="#d1d4dc" shape-rendering="auto"/>
<text x="1513" y="45.5" text-anchor="middle" font-family='"Trebuchet MS", "Fira Sans", "Liberation Sans", sans-serif' font-size="12" fill="#50535e" textLength="22.14" lengthAdjust="spacingAndGlyphs">USD</text>
<path d="M1483 168.0h48a2 2 0 0 1 2 2v13.0a2 2 0 0 1 -2 2h-48z" fill="#4caf50" shape-rendering="auto"/>
<path d="M1483 200h48a2 2 0 0 1 2 2v27a2 2 0 0 1 -2 2h-48z" fill="#ef5350" shape-rendering="auto"/>
<path d="M1447 200h35v17h-35a2 2 0 0 1 -2 -2v-13a2 2 0 0 1 2 -2z" fill="#ef5350" shape-rendering="auto"/>
<path d="M1483 433.0h48a2 2 0 0 1 2 2v13.0a2 2 0 0 1 -2 2h-48z" fill="#434651" shape-rendering="auto"/>
<path d="M1483 501.0h48a2 2 0 0 1 2 2v13.0a2 2 0 0 1 -2 2h-48z" fill="#434651" shape-rendering="auto"/>
<path d="M1483 575.0h48a2 2 0 0 1 2 2v13.0a2 2 0 0 1 -2 2h-48z" fill="#434651" shape-rendering="auto"/>
<path d="M1484 176.5h4M1484 208.5h4M1484 441.5h4M1484 509.5h4M1484 583.5h4" stroke="#fff" stroke-width="1"/>
<g font-family='"Trebuchet MS", "Fira Sans", "Liberation Sans", sans-serif' font-size="12.6" fill="#fff">
<text x="1493" y="180.8" textLength="34.4" lengthAdjust="spacingAndGlyphs">779.88</text>
<text x="1493" y="212.8" textLength="34.4" lengthAdjust="spacingAndGlyphs">732.76</text>
<text x="1493" y="227.3" textLength="27" lengthAdjust="spacingAndGlyphs">11:51</text>
<text x="1451" y="212.8" textLength="25.8" lengthAdjust="spacingAndGlyphs">TSLA</text>
<text x="1493" y="445.8" textLength="34.4" lengthAdjust="spacingAndGlyphs">386.83</text>
<text x="1493" y="513.8" textLength="34.4" lengthAdjust="spacingAndGlyphs">285.90</text>
<text x="1493" y="587.8" textLength="34.4" lengthAdjust="spacingAndGlyphs">177.19</text>
</g>
<g font-family='"Trebuchet MS", "Fira Sans", "Liberation Sans", sans-serif' font-size="12.5" fill="#50535e" text-anchor="middle">
<text x="66.5" y="861" font-weight="600" textLength="27.14" lengthAdjust="spacingAndGlyphs">2020</text>
<text x="167.5" y="861" textLength="22.89" lengthAdjust="spacingAndGlyphs">Mrz.</text>
<text x="275.5" y="861" textLength="19.91" lengthAdjust="spacingAndGlyphs">Maj</text>
<text x="380.5" y="861" textLength="17.19" lengthAdjust="spacingAndGlyphs">Lip</text>
<text x="488.5" y="861" textLength="20.44" lengthAdjust="spacingAndGlyphs">Wrz</text>
<text x="596.5" y="861" textLength="15.59" lengthAdjust="spacingAndGlyphs">Lis</text>
<text x="701.5" y="861" font-weight="600" textLength="25.33" lengthAdjust="spacingAndGlyphs">2021</text>
<text x="796.5" y="861" textLength="22.89" lengthAdjust="spacingAndGlyphs">Mrz.</text>
<text x="907.5" y="861" textLength="19.91" lengthAdjust="spacingAndGlyphs">Maj</text>
<text x="1012.5" y="861" textLength="17.19" lengthAdjust="spacingAndGlyphs">Lip</text>
<text x="1120.5" y="861" textLength="20.44" lengthAdjust="spacingAndGlyphs">Wrz</text>
<text x="1225.5" y="861" textLength="15.59" lengthAdjust="spacingAndGlyphs">Lis</text>
<text x="1333.5" y="861" font-weight="600" textLength="26.31" lengthAdjust="spacingAndGlyphs">2022</text>
<text x="1431.5" y="861" textLength="22.89" lengthAdjust="spacingAndGlyphs">Mrz.</text>
</g>
<g font-family='Carlito, Calibri, "Liberation Sans", sans-serif' fill="#565964">
<text x="17" y="47" font-size="14" font-weight="bold" textLength="142.08" lengthAdjust="spacingAndGlyphs">TESLA INC, 1D, Cboe BZX</text>
<text x="17" y="63.5" font-size="14" textLength="55.33" lengthAdjust="spacingAndGlyphs">Wolumen</text>
<text x="17" y="736" font-size="14" textLength="64.94" lengthAdjust="spacingAndGlyphs">PC (20, 1.3)</text>
<text x="17" y="778.5" font-size="14" textLength="78.84" lengthAdjust="spacingAndGlyphs">RSI (14, close)</text>
</g>
<g fill="#131722" shape-rendering="auto"><rect x="64" y="0" width="1.2" height="2.2"/><rect x="253.2" y="0" width="1" height="1.3"/><rect x="327.5" y="0" width="1" height="1.2"/></g>
<path d="M190 0.3q3 2.6 6 0" stroke="#131722" stroke-width="1.1" fill="none" shape-rendering="auto"/>
<g font-family='Carlito, Calibri, "Liberation Sans", sans-serif' font-size="14" fill="#131722">
<text x="8.4" y="16" font-weight="bold" textLength="83.20" lengthAdjust="spacingAndGlyphs">BATS:TSLA, 1D</text>
<text x="99.8" y="16" textLength="39.02" lengthAdjust="spacingAndGlyphs">732.76</text>
<path d="M141 7h10l-5 9.8z" fill="#ef5350" shape-rendering="auto"/>
<text x="155.2" y="16" textLength="92.36" lengthAdjust="spacingAndGlyphs">&#8722;29.56 (&#8722;3.88%)</text>
<text x="250.9" y="16" font-weight="bold" textLength="13.34" lengthAdjust="spacingAndGlyphs">O:</text>
<text x="265.2" y="16" fill="#ef5350" textLength="39.02" lengthAdjust="spacingAndGlyphs">770.70</text>
<text x="308.5" y="16" font-weight="bold" textLength="12.70" lengthAdjust="spacingAndGlyphs">H:</text>
<text x="322.5" y="16" fill="#ef5350" textLength="39.02" lengthAdjust="spacingAndGlyphs">780.79</text>
<text x="365.5" y="16" font-weight="bold" textLength="9.80" lengthAdjust="spacingAndGlyphs">L:</text>
<text x="376.7" y="16" fill="#ef5350" textLength="39.02" lengthAdjust="spacingAndGlyphs">728.20</text>
<text x="419.2" y="16" font-weight="bold" textLength="11.28" lengthAdjust="spacingAndGlyphs">C:</text>
<text x="431.3" y="16" fill="#ef5350" textLength="39.02" lengthAdjust="spacingAndGlyphs">732.76</text>
</g>
</svg></body></html>
